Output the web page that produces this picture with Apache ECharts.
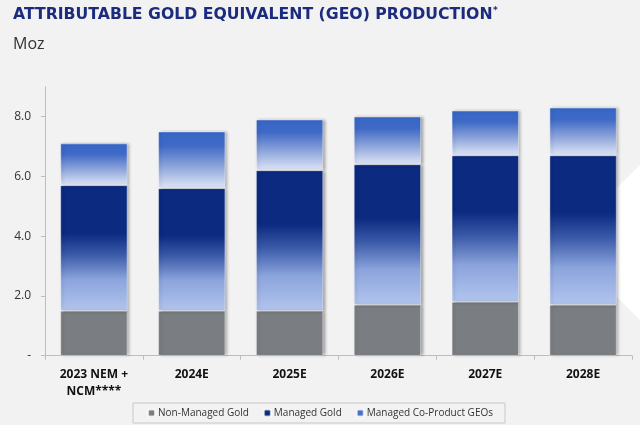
<!DOCTYPE html>
<html><head><meta charset="utf-8">
<script src="https://cdn.jsdelivr.net/npm/echarts@6/dist/echarts.min.js"></script>
<style>html,body{margin:0;padding:0;background:#f2f2f2;}#c{width:640px;height:425px;}</style>
</head><body><div id="c"></div>
<script>
const categories = ['2023 NEM +\nNCM****', '2024E', '2025E', '2026E', '2027E', '2028E'];
const nonManagedGold = [1.5, 1.5, 1.5, 1.7, 1.8, 1.7];
const managedGold = [4.2, 4.1, 4.7, 4.7, 4.9, 5.0];
const managedCoProduct = [1.4, 1.9, 1.7, 1.6, 1.5, 1.6];
const yTicks = [0, 2, 4, 6, 8];

const chart = echarts.init(document.getElementById('c'), null, {renderer: 'canvas'});
const grad = (stops) => new echarts.graphic.LinearGradient(0, 0, 0, 1, stops.map(s => ({offset: s[0], color: s[1]})));
const shadow = {shadowColor: 'rgba(0,0,0,0.35)', shadowBlur: 3, shadowOffsetX: 2, shadowOffsetY: 0, borderColor: 'rgba(255,255,255,0.7)', borderWidth: 0.6};

chart.setOption({
  backgroundColor: '#f2f2f2',
  animation: false,
  graphic: [
    {type: 'polygon', z: -10, shape: {points: [[640, 165], [562, 242], [640, 320]]}, style: {fill: '#ffffff'}},
    {type: 'text', left: 13, top: 7, style: {text: 'ATTRIBUTABLE GOLD EQUIVALENT (GEO) PRODUCTION', font: 'bold 15.7px "DejaVu Sans"', fill: '#1b2b7d'}},
    {type: 'text', left: 493, top: 6, style: {text: '*', font: 'bold 9px "DejaVu Sans"', fill: '#1b2b7d'}},
    {type: 'text', left: 13, top: 36, style: {text: 'Moz', font: '16px "Open Sans"', fill: '#333333'}}
  ],
  legend: {
    bottom: 2, left: 'center',
    itemWidth: 7, itemHeight: 7, itemGap: 14,
    padding: [5, 12, 5, 14],
    borderColor: '#c8c8c8', borderWidth: 1,
    textStyle: {fontFamily: 'Open Sans', fontSize: 10, color: '#333', padding: [0, 0, 0, -2]},
    data: [
      {name: 'Non-Managed Gold', itemStyle: {color: '#7a7e82'}},
      {name: 'Managed Gold', itemStyle: {color: '#0b2a80'}},
      {name: 'Managed Co-Product GEOs', itemStyle: {color: '#4a70c8'}}
    ]
  },
  grid: {left: 45, right: 8, top: 86.8, bottom: 69.3, containLabel: false},
  xAxis: {
    type: 'category', data: categories,
    axisLine: {lineStyle: {color: '#bdbdbd'}},
    axisTick: {show: true, length: 4, lineStyle: {color: '#bdbdbd'}},
    axisLabel: {fontFamily: 'Open Sans', fontWeight: 'bold', fontSize: 12, color: '#111', margin: 10, lineHeight: 17}
  },
  yAxis: {
    type: 'value', min: 0, max: 9, interval: 2,
    splitLine: {show: false},
    axisLine: {show: true, lineStyle: {color: '#bdbdbd'}},
    axisTick: {show: true, length: 4, lineStyle: {color: '#bdbdbd'}, customValues: yTicks},
    axisLabel: {fontFamily: 'Open Sans', fontSize: 12, color: '#333', margin: 14, customValues: yTicks,
      formatter: v => v === 0 ? '-' : v.toFixed(1)}
  },
  series: [
    {name: 'Non-Managed Gold', type: 'bar', stack: 'a', barWidth: 67, data: nonManagedGold,
      itemStyle: Object.assign({color: '#7a7e82'}, shadow)},
    {name: 'Managed Gold', type: 'bar', stack: 'a', barWidth: 67, data: managedGold,
      itemStyle: Object.assign({color: grad([[0, '#0b2a80'], [0.38, '#0b2a80'], [0.55, '#3a59a8'], [0.75, '#8ba4dc'], [1, '#b2c5ee']])}, shadow)},
    {name: 'Managed Co-Product GEOs', type: 'bar', stack: 'a', barWidth: 67, data: managedCoProduct,
      itemStyle: Object.assign({color: grad([[0, '#3766c6'], [0.25, '#3f6ac6'], [0.6, '#8aa2da'], [1, '#dfe6f6']])}, shadow)}
  ]
});
</script></body></html>
